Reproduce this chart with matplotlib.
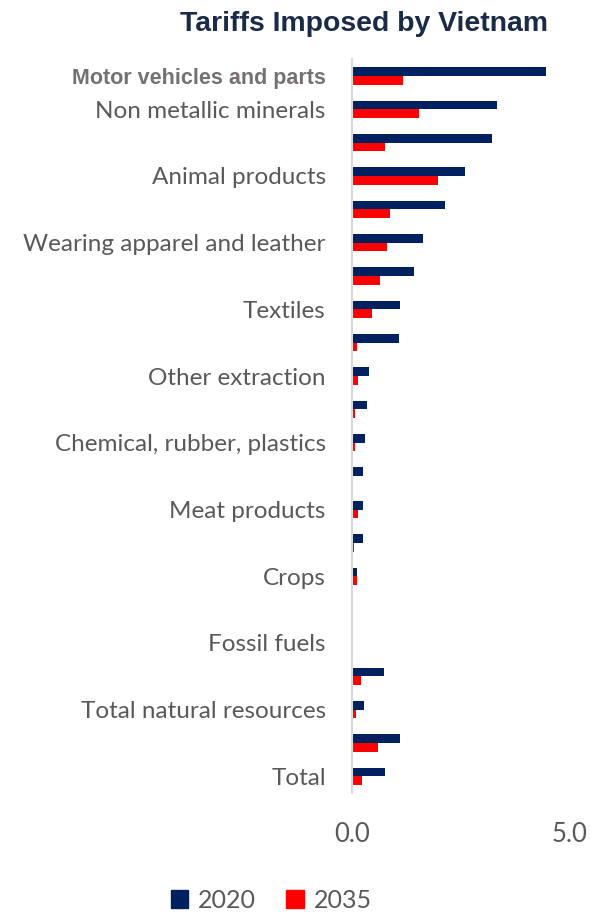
import matplotlib.pyplot as plt
import numpy as np
from matplotlib.patches import Patch

# values (row order top -> bottom)
labels = ['Motor vehicles and parts', 'Non metallic minerals', '', 'Animal products', '',
          'Wearing apparel and leather', '', 'Textiles', '', 'Other extraction', '',
          'Chemical, rubber, plastics', '', 'Meat products', '', 'Crops', '',
          'Fossil fuels', '', 'Total natural resources', '', 'Total']
tariff_2020 = [4.46, 3.33, 3.22, 2.60, 2.12, 1.63, 1.42, 1.09, 1.08, 0.38, 0.33,
               0.30, 0.24, 0.24, 0.24, 0.11, 0.01, 0.0, 0.74, 0.26, 1.09, 0.76]
tariff_2035 = [1.17, 1.54, 0.76, 1.96, 0.86, 0.81, 0.63, 0.46, 0.11, 0.13, 0.06,
               0.07, 0.0, 0.14, 0.03, 0.10, 0.0, 0.0, 0.19, 0.08, 0.59, 0.22]
series_names = ['2020', '2035']

navy = '#002060'
red = '#FF0000'

fig = plt.figure(figsize=(5.9, 9.16), dpi=100)
ax = fig.add_axes([0.597, 0.1343, 0.369, 0.801])

y = np.arange(len(labels))
h = 0.26
ax.barh(y - h / 2, tariff_2020, height=h, color=navy)
ax.barh(y + h / 2, tariff_2035, height=h, color=red)

ax.set_xlim(0, 5.0)
ax.set_ylim(len(labels) - 0.5, -0.5)
ax.set_xticks([0, 5])
ax.set_xticklabels(['0.0', '5.0'], fontsize=18.5, color='#595959', family='Lato')
ax.set_yticks(y)
ax.set_yticklabels(labels, fontsize=17.5, color='#595959', family='Lato')
ax.tick_params(axis='y', length=0, pad=19)
ax.tick_params(axis='x', length=0, pad=21)

# first label is styled differently in the original
first = ax.get_yticklabels()[0]
first.set_family('Liberation Sans')
first.set_fontweight('bold')
first.set_fontsize(15.5)
first.set_color('#767171')

for s in ['top', 'right', 'bottom']:
    ax.spines[s].set_visible(False)
ax.spines['left'].set_color('#D9D9D9')
ax.spines['left'].set_linewidth(1.5)

fig.text(0.617, 0.974, 'Tariffs Imposed by Vietnam', ha='center', va='center',
         fontsize=20.4, fontweight='bold', color='#1B2A47', family='Liberation Sans')

handles = [Patch(color=navy), Patch(color=red)]
fig.legend(handles, series_names, loc='center', bbox_to_anchor=(0.46, 0.017),
           ncol=2, frameon=False, handlelength=0.7, handleheight=0.7,
           handletextpad=0.4, columnspacing=1.2,
           prop={'family': 'Lato', 'size': 18}, labelcolor='#595959')

fig.savefig('out.png', dpi=100)
